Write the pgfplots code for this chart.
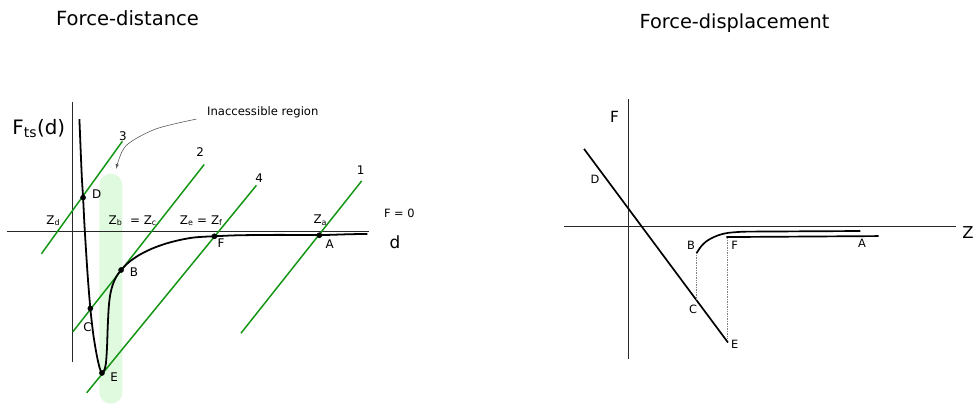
\documentclass[border=0pt]{standalone}
\usepackage{pgfplots}
\pgfplotsset{compat=1.18}
\usepackage{fontspec}
\setmainfont{DejaVu Sans}
\definecolor{grn}{RGB}{20,150,20}
\definecolor{shade}{RGB}{224,250,224}
\definecolor{axgray}{RGB}{40,40,40}
\newcommand{\fs}[1]{\fontsize{#1}{#1}\selectfont}
\begin{document}
\begin{tikzpicture}
\begin{axis}[scale only axis, width=977pt, height=408pt,
  xmin=0, xmax=977, ymin=-408, ymax=0, hide axis, clip=false]
% bounding
\addplot[draw=none] coordinates {(0,0) (977,-408)};
% inaccessible region
\addplot[fill=shade, draw=none, rounded corners=11.6pt] coordinates {(100,-175) (123.3,-175) (123.3,-406.7) (100,-406.7)} -- cycle;
% axes left
\addplot[axgray, line width=1.2pt] coordinates {(72.7,-103) (72.7,-365)};
\addplot[axgray, line width=1.2pt] coordinates {(7,-233) (372,-233)};
% green lines
\addplot[grn, line width=1.5pt] coordinates {(242.7,-335.7) (364.3,-182.3)};
\addplot[grn, line width=1.5pt] coordinates {(87.3,-395.7) (258.3,-186.7)};
\addplot[grn, line width=1.5pt] coordinates {(73.3,-334.3) (205.7,-165.7)};
\addplot[grn, line width=1.5pt] coordinates {(41.7,-255.7) (123.3,-142.3)};
% force curve
\addplot[black, line width=1.8pt, smooth, tension=0.5] coordinates {
(80,-120) (81.2,-150) (82.5,-180) (83.7,-199) (85,-225) (86.5,-250) (88.5,-280) (91,-310.7)
(94,-337) (97.5,-358) (100.5,-371) (102.7,-375.7) (105,-373) (106.7,-366) (107.8,-350)
(108.5,-330) (109.5,-310) (111,-297) (113.5,-287) (117,-279) (122,-272) (130,-264)
(140,-257) (153,-250.5) (166.7,-245.5) (180,-242) (193.3,-239.5) (205,-238.5) (216,-238)
(240,-237) (280,-236.6) (321.7,-236.8) (350,-236) (370,-235.6)};
% points
\addplot[only marks, mark=*, mark size=2.6pt, black] coordinates {(83.7,-199) (91,-310.7) (102.7,-375.7) (122,-272) (216,-238) (321.7,-237)};
% arrow
\addplot[gray!70!black, line width=0.6pt, smooth, -latex] coordinates {(197.7,-120) (156.7,-130) (126.7,-147) (117,-170)};
% left labels
\node[anchor=base west, font=\fs{19.7}] at (53,-25.7) {Force-distance};
\node[anchor=base west, font=\fs{20}] at (9,-135.7) {F\textsubscript{ts}(d)};
\node[anchor=base west, font=\fs{17}] at (389,-250.7) {d};
\node[anchor=base west, font=\fs{11.5}] at (383.3,-219.3) {F = 0};
\node[anchor=center, font=\fs{11.7}] at (264.7,-113) {Inaccessible region};
\node[anchor=base west, font=\fs{12}] at (43.3,-225.7) {Z\textsubscript{d}};
\node[anchor=base west, font=\fs{12}] at (106,-225.7) {Z\textsubscript{b}\ \ = Z\textsubscript{c}};
\node[anchor=base west, font=\fs{12}] at (177.7,-225.7) {Z\textsubscript{e} = Z\textsubscript{f}};
\node[anchor=base west, font=\fs{12}] at (312.3,-225.3) {Z\textsubscript{a}};
\node[font=\fs{12}] at (363.3,-171) {1};
\node[font=\fs{12}] at (201.7,-152.7) {2};
\node[font=\fs{12}] at (123.7,-136.7) {3};
\node[font=\fs{12}] at (261,-179) {4};
\node[font=\fs{12}] at (97.3,-196) {D};
\node[font=\fs{12}] at (135,-274) {B};
\node[font=\fs{12}] at (222.7,-245.3) {F};
\node[font=\fs{12}] at (332,-246) {A};
\node[font=\fs{12}] at (88.3,-329.3) {C};
\node[font=\fs{12}] at (115,-380) {E};
% right panel
\addplot[axgray, line width=1.2pt] coordinates {(633.3,-100) (633.3,-361.7)};
\addplot[axgray, line width=1.2pt] coordinates {(568.3,-228.3) (963.3,-228.3)};
\addplot[black, line width=1.7pt] coordinates {(588.3,-150) (733.3,-345)};
\addplot[black, line width=1.7pt, smooth, tension=0.5] coordinates {(701.7,-255) (706,-248.5) (711,-243.5) (717,-239.8) (725,-236.5) (733.3,-234.6) (746.7,-233.5) (760,-233.3) (866.7,-232.7)};
\addplot[black, line width=1.7pt] coordinates {(731.7,-238.8) (885,-237.8)};
\addplot[gray, line width=0.7pt, densely dotted] coordinates {(701.7,-255) (701.7,-301.7)};
\addplot[gray, line width=0.7pt, densely dotted] coordinates {(732.3,-240) (732.3,-341.7)};
\node[anchor=base west, font=\fs{19.5}] at (640.7,-28.3) {Force-displacement};
\node[anchor=base west, font=\fs{15.5}] at (611,-123.3) {F};
\node[anchor=base west, font=\fs{16.5}] at (966,-240) {Z};
\node[font=\fs{11.5}] at (599.3,-180.7) {D};
\node[font=\fs{11.5}] at (698.3,-311.7) {C};
\node[font=\fs{11.5}] at (740,-346.7) {E};
\node[font=\fs{11.5}] at (696,-247.3) {B};
\node[font=\fs{11.5}] at (740,-246.7) {F};
\node[font=\fs{11.5}] at (868.3,-245) {A};
\end{axis}
\end{tikzpicture}
\end{document}
